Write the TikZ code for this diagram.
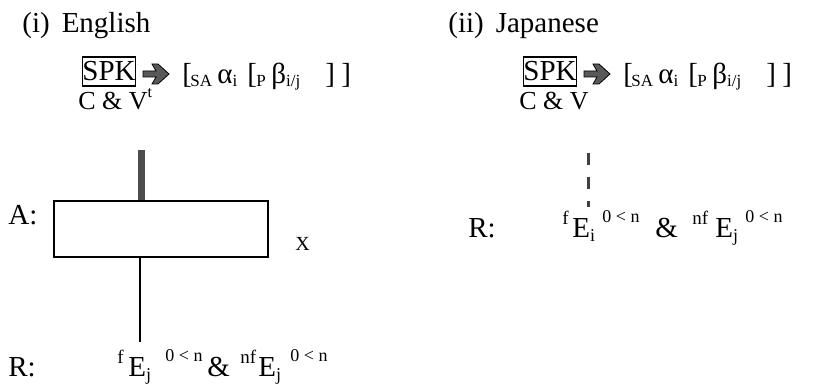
\documentclass[tikz,border=0pt]{standalone}
\usepackage{fontspec}
\setmainfont{Liberation Serif}
\newcommand{\pc}[2]{\makebox[#1][l]{#2}}
\newcommand{\upx}[1]{\raisebox{7.5pt}{\fontsize{9}{9}\selectfont #1}}
\newcommand{\upf}[1]{\raisebox{6.5pt}{\fontsize{9.5}{10}\selectfont #1}}
\newcommand{\dnx}[1]{\raisebox{-2pt}{\fontsize{9}{9}\selectfont #1}}
\newcommand{\subx}[1]{\raisebox{-1.5pt}{\fontsize{8.5}{9}\selectfont #1}}
\newcommand{\brex}{\pc{4pt}{[}\pc{13.5pt}{\subx{SA}}\pc{15pt}{α\subx{i}}\pc{4.5pt}{[}\pc{7.5pt}{\subx{P}}\pc{27pt}{β\subx{i/j}}\pc{8pt}{]}]}
\tikzset{
  txt/.style={anchor=base west, inner sep=0pt, font=\fontsize{14.5}{16}\selectfont},
  spkbox/.style={draw, line width=0.6pt, inner sep=0pt, minimum width=26pt, minimum height=14.5pt, font=\fontsize{14.5}{16}\selectfont},
  bigarrow/.style={fill=black!65, draw=black, line width=0.4pt},
}
\begin{document}
\begin{tikzpicture}[x=0.5pt,y=-0.5pt]
\useasboundingbox (0,0) rectangle (825,384);
% titles
\node[txt] (ti) at (22,33) {(i)\hspace{6pt}English};
\node[txt] (tii) at (448,33) {(ii)\hspace{6pt}Japanese};
% English
\node[spkbox] (spk1) at (109,71.5) {SPK};
\draw[bigarrow] (143,71) -- (156,71) -- (152,64) -- (158,64) -- (169,74) -- (158,84) -- (152,84) -- (156,77) -- (143,77) -- cycle;
\node[txt] (br1) at (182,84) {\brex};
\node[txt, font=\fontsize{13}{15}\selectfont] (cv1) at (78,110) {C \& V\raisebox{6pt}{\fontsize{8}{8}\selectfont t}};
\coordinate (bartop) at (141.5,150);
\node[draw, line width=0.8pt, minimum width=107pt, minimum height=28pt, inner sep=0pt] (boxA) at (161,229) {};
\draw[line width=3.5pt, black!70] (bartop) -- (bartop |- boxA.north);
\coordinate (linebot) at (140,342);
\draw[line width=0.7pt] (linebot |- boxA.south) -- (linebot);
\node[txt] (A) at (8,225) {A:};
\node[txt, font=\fontsize{10}{11}\selectfont] (X) at (295,251) {X};
\node[txt] (R1) at (8,377) {R:};
\node[txt] (E1) at (117,377) {\pc{5.5pt}{\upf{f}}\pc{18.5pt}{E\dnx{j}}\pc{21pt}{\upx{0 < n}}\pc{16.5pt}{\&}\pc{9pt}{\upf{nf}}\pc{16pt}{E\dnx{j}}\upx{0 < n}};
% Japanese
\node[spkbox] (spk2) at (550,71.5) {SPK};
\draw[bigarrow] (584,71) -- (597,71) -- (593,64) -- (599,64) -- (610,74) -- (599,84) -- (593,84) -- (597,77) -- (584,77) -- cycle;
\node[txt] (br2) at (623,84) {\brex};
\node[txt, font=\fontsize{13}{15}\selectfont] (cv2) at (519,110) {C \& V};
\coordinate (dtop) at (588,153);
\coordinate (dbot) at (588,207);
\draw[line width=1.5pt, black!75, dash pattern=on 6pt off 6pt] (dtop) -- (dbot);
\node[txt] (R2) at (468,238) {R:};
\node[txt] (E2) at (562,238) {\pc{5pt}{\upf{f}}\pc{15pt}{E\dnx{i}}\pc{26.5pt}{\upx{0 < n}}\pc{18.5pt}{\&}\pc{11.5pt}{\upf{nf}}\pc{15pt}{E\dnx{j}}\upx{0 < n}};
\end{tikzpicture}
\end{document}
